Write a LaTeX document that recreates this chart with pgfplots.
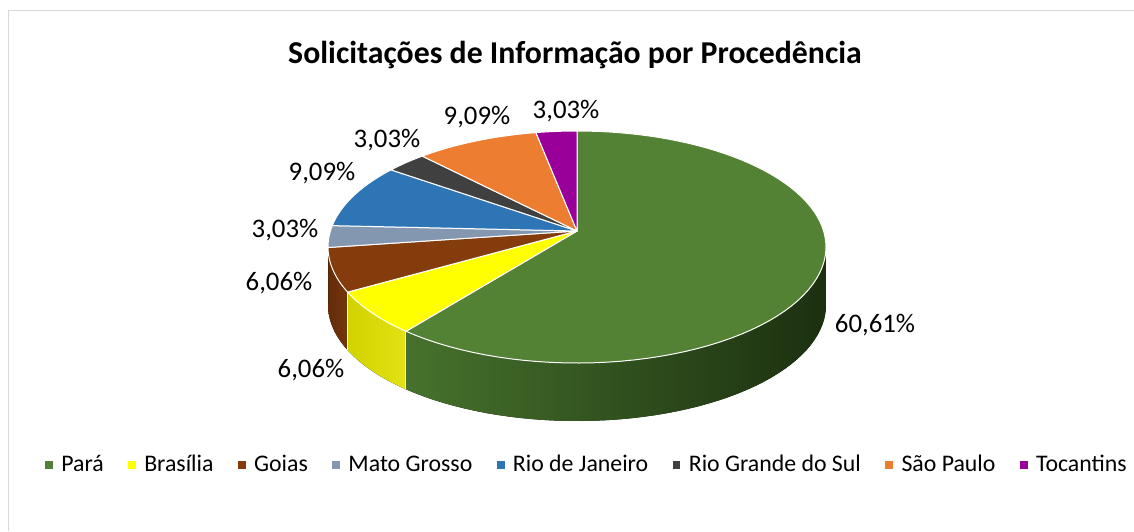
\documentclass[border=0pt]{standalone}
\usepackage{fontspec}
\setmainfont{Carlito}
\usepackage{pgfplots}
\usepackage{pgfplotstable}
\pgfplotsset{compat=1.18}

\definecolor{cPara}{HTML}{548235}
\definecolor{cBras}{HTML}{FFFF00}
\definecolor{cGoias}{HTML}{843C0C}
\definecolor{cMato}{HTML}{8497B0}
\definecolor{cRio}{HTML}{2E75B6}
\definecolor{cRgs}{HTML}{404040}
\definecolor{cSP}{HTML}{ED7D31}
\definecolor{cToc}{HTML}{990099}
\definecolor{wParaL}{HTML}{46722D}
\definecolor{wParaR}{HTML}{1C3010}
\definecolor{wBrasL}{HTML}{D2D200}
\definecolor{wBrasR}{HTML}{E2E214}
\definecolor{wGoiasL}{HTML}{642C09}
\definecolor{wGoiasR}{HTML}{74350C}
\definecolor{wMatoL}{HTML}{6F7E93}
\definecolor{wMatoR}{HTML}{6F7E93}
\definecolor{frame}{HTML}{D9D9D9}

% value, label position (pixels), top colour, wall colours
\pgfplotstableread{
value lx  ly  fc     wl      wr
60.61 875 325 cPara  wParaL  wParaR
6.06  311 370 cBras  wBrasL  wBrasR
6.06  279 283 cGoias wGoiasL wGoiasR
3.03  285 230 cMato  wMatoL  wMatoR
9.09  322 173 cRio   wMatoL  wMatoR
3.03  387 140 cRgs   wMatoL  wMatoR
9.09  477 117 cSP    wMatoL  wMatoR
3.03  566 111 cToc   wMatoL  wMatoR
}\piedata

% projection of the pie's rim (perspective view)
\pgfmathdeclarefunction{pxx}{1}{\pgfmathparse{577+246.6*cos(#1)/(1+0.138*sin(#1))}}
\pgfmathdeclarefunction{pyy}{1}{\pgfmathparse{231-113.8*sin(#1)/(1+0.138*sin(#1))}}
\def\depth{58}

\begin{document}
\begin{tikzpicture}
% slice angles from the values (start at 12 o'clock, clockwise)
\gdef\acc{90}
\foreach \i in {0,...,7}{%
  \pgfplotstablegetelem{\i}{value}\of\piedata
  \pgfmathsetmacro\e{\acc-3.6*\pgfplotsretval}%
  \expandafter\xdef\csname sA\i\endcsname{\acc}%
  \expandafter\xdef\csname sB\i\endcsname{\e}%
  \xdef\acc{\e}%
}
\begin{axis}[
  width=567pt, height=265.5pt, scale only axis, hide axis,
  xmin=0, xmax=1134, ymin=0, ymax=531, y dir=reverse, clip=false,
  legend image code/.code={\fill[#1] (0pt,-1.7pt) rectangle (3.4pt,1.7pt);},
  legend style={at={(0.5167,0.1243)}, anchor=center, draw=none, fill=none,
    legend columns=-1, font=\fontsize{11.9}{14}\selectfont,
    nodes={inner xsep=0pt},
    /tikz/every odd column/.append style={column sep=4.3pt},
    /tikz/every even column/.append style={column sep=12.2pt}},
]
\addlegendimage{cPara}\addlegendentry{Pará}
\addlegendimage{cBras}\addlegendentry{Brasília}
\addlegendimage{cGoias}\addlegendentry{Goias}
\addlegendimage{cMato}\addlegendentry{Mato Grosso}
\addlegendimage{cRio}\addlegendentry{Rio de Janeiro}
\addlegendimage{cRgs}\addlegendentry{Rio Grande do Sul}
\addlegendimage{cSP}\addlegendentry{São Paulo}
\addlegendimage{cToc}\addlegendentry{Tocantins}

\draw[frame, line width=0.7pt] (axis cs:8.5,531) -- (axis cs:8.5,10.5) -- (axis cs:1134,10.5);
\node[font=\bfseries\fontsize{15.9}{19}\selectfont] at (axis cs:575,55)
  {Solicitações de Informação por Procedência};

\pgfplotsextra{
  % side walls (front half only)
  \foreach \i in {0,...,7}{%
    \pgfplotstablegetelem{\i}{wl}\of\piedata \let\wl\pgfplotsretval
    \pgfplotstablegetelem{\i}{wr}\of\piedata \let\wr\pgfplotsretval
    \edef\A{\csname sA\i\endcsname}\edef\B{\csname sB\i\endcsname}%
    \pgfmathsetmacro\lo{max(\B,-172.1)}%
    \pgfmathsetmacro\hi{min(\A,-7.9)}%
    \pgfmathtruncatemacro\vis{\lo<\hi}%
    \ifnum\vis=1
      \fill[left color=\wl, right color=\wr]
        plot[domain=\hi:\lo, samples=50, variable=\t] (axis cs:{pxx(\t)},{pyy(\t)})
        -- plot[domain=\lo:\hi, samples=50, variable=\t] (axis cs:{pxx(\t)},{pyy(\t)+\depth})
        -- cycle;
    \fi
  }
  % white edges between the walls
  \foreach \i in {1,2}{%
    \edef\A{\csname sA\i\endcsname}%
    \draw[white, line width=0.5pt] (axis cs:{pxx(\A)},{pyy(\A)}) -- (axis cs:{pxx(\A)},{pyy(\A)+\depth});
  }
  % top faces
  \foreach \i in {0,...,7}{%
    \pgfplotstablegetelem{\i}{fc}\of\piedata \let\fc\pgfplotsretval
    \edef\A{\csname sA\i\endcsname}\edef\B{\csname sB\i\endcsname}%
    \filldraw[fill=\fc, draw=white, line width=0.5pt, line join=round]
      (axis cs:577,231)
      -- plot[domain=\A:\B, samples=80, variable=\t] (axis cs:{pxx(\t)},{pyy(\t)})
      -- cycle;
  }
  % data labels
  \foreach \i in {0,...,7}{%
    \pgfplotstablegetelem{\i}{value}\of\piedata \let\v\pgfplotsretval
    \pgfplotstablegetelem{\i}{lx}\of\piedata \let\lx\pgfplotsretval
    \pgfplotstablegetelem{\i}{ly}\of\piedata \let\ly\pgfplotsretval
    \node[font=\fontsize{13.4}{15}\selectfont] at (axis cs:\lx,\ly)
      {\pgfmathprintnumber[fixed,fixed zerofill,precision=2,use comma,assume math mode=true]{\v}\%};
  }
}
\end{axis}
\pgfresetboundingbox
\path (current axis.south west) rectangle (current axis.north east);
\end{tikzpicture}
\end{document}
